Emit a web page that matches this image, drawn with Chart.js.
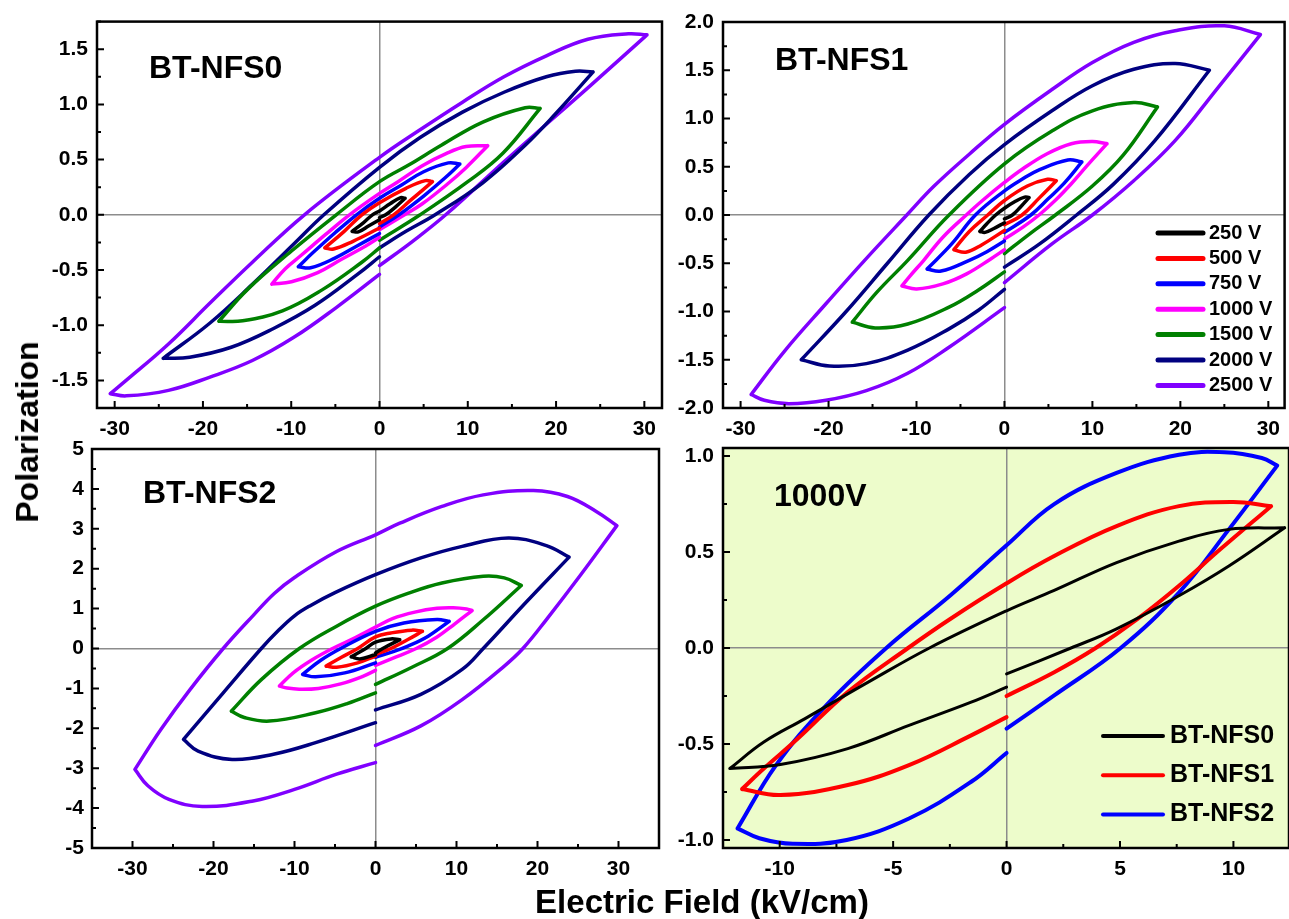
<!DOCTYPE html>
<html>
<head>
<meta charset="utf-8">
<title>P-E loops</title>
<script src="https://cdn.jsdelivr.net/npm/chart.js@4.4.1/dist/chart.umd.min.js"></script>
<style>
  body { margin: 0; width: 1289px; height: 919px; background: #fff; overflow: hidden; position: relative;
         font-family: 'Liberation Sans', Arial, sans-serif; }
  canvas { position: absolute; left: 0; top: 0; }
  .lbl { position: absolute; font-weight: bold; color: #000; white-space: nowrap; }
</style>
</head>
<body>
<canvas id="c1" width="1289" height="919"></canvas>
<canvas id="c2" width="1289" height="919"></canvas>
<canvas id="c3" width="1289" height="919"></canvas>
<canvas id="c4" width="1289" height="919"></canvas>

<div class="lbl" style="left:149px;top:51px;font-size:32px;line-height:32px">BT-NFS0</div>
<div class="lbl" style="left:775px;top:43px;font-size:32px;line-height:32px">BT-NFS1</div>
<div class="lbl" style="left:143px;top:476px;font-size:32px;line-height:32px">BT-NFS2</div>
<div class="lbl" style="left:774px;top:479px;font-size:32px;line-height:32px">1000V</div>
<div class="lbl" style="left:27px;top:432px;font-size:32px;line-height:32px;transform:translate(-50%,-50%) rotate(-90deg)">Polarization</div>
<div class="lbl" style="left:702px;top:885px;font-size:33px;line-height:33px;transform:translateX(-50%)">Electric Field (kV/cm)</div>

<script>
// legend labels and colours
const voltLabels = ['250 V', '500 V', '750 V', '1000 V', '1500 V', '2000 V', '2500 V'];
const voltColors = ['#000000', '#ff0000', '#0000ff', '#ff00ff', '#008000', '#000080', '#8000ff'];
const sampleLabels = ['BT-NFS0', 'BT-NFS1', 'BT-NFS2'];
const sampleColors = ['#000000', '#ff0000', '#0000ff'];

// tick values
const fieldTicks = [-30, -20, -10, 0, 10, 20, 30];
const fieldTicks1000 = [-10, -5, 0, 5, 10];
const polTicks0 = [-1.5, -1.0, -0.5, 0, 0.5, 1.0, 1.5];
const polTicks1 = [-2.0, -1.5, -1.0, -0.5, 0, 0.5, 1.0, 1.5, 2.0];
const polTicks2 = [-5, -4, -3, -2, -1, 0, 1, 2, 3, 4, 5];
const polTicks1000 = [-1.0, -0.5, 0, 0.5, 1.0];

// each loop: [E (kV/cm), P] from E=0 up the lower branch, back along the upper branch, then the lower-left branch to E=0
const nfs0_250 = [[0,-0.025],[0.7,0],[1.8,0.07],[2.9,0.15],[2.4,0.155],[1.2,0.1],[0,0.035],[-0.8,0],[-1.8,-0.07],[-3.1,-0.15],[-2.4,-0.155],[-1.2,-0.1],[0,-0.045]];
const nfs0_500 = [[0,-0.08],[1.6,0],[3.5,0.13],[6.0,0.30],[5.2,0.31],[3,0.24],[0,0.11],[-2.0,0],[-4,-0.15],[-6.2,-0.30],[-5.2,-0.31],[-3,-0.24],[0,-0.12]];
const nfs0_750 = [[0,-0.11],[2.2,0],[5,0.17],[7.5,0.34],[9.1,0.46],[7.8,0.47],[5,0.39],[2.5,0.27],[0,0.15],[-2.6,0],[-5,-0.16],[-7.5,-0.34],[-9.2,-0.47],[-7.8,-0.48],[-5,-0.39],[-2.5,-0.28],[0,-0.17]];
const nfs0_1000 = [[0,-0.135],[2.84,0],[4.85,0.1],[7.6,0.272],[9.8,0.427],[12.26,0.626],[9.8,0.618],[7.6,0.557],[4.85,0.445],[2.1,0.3],[0,0.194],[-3.4,0],[-6.1,-0.178],[-8.9,-0.369],[-10.7,-0.49],[-12.2,-0.628],[-9.97,-0.607],[-7.0,-0.524],[-4.3,-0.403],[-1.56,-0.282],[0,-0.204]];
const nfs0_1500 = [[0,-0.23],[4.6,0],[10,0.3],[14,0.56],[18.2,0.964],[16.5,0.97],[11.7,0.84],[7.0,0.63],[3.5,0.46],[0,0.3],[-4.9,0],[-10,-0.33],[-15,-0.68],[-18.2,-0.964],[-15.5,-0.96],[-11,-0.87],[-6.5,-0.68],[-2,-0.43],[0,-0.3]];
const nfs0_2000 = [[0,-0.3],[3,-0.15],[6.3,0],[11.7,0.29],[16.5,0.63],[20,0.92],[24.2,1.294],[22.2,1.3],[18.9,1.25],[14.1,1.11],[9.4,0.93],[4.6,0.7],[0,0.43],[-6.3,0],[-9.65,-0.26],[-14.4,-0.63],[-19.2,-0.98],[-24.5,-1.3],[-21.5,-1.29],[-16.8,-1.2],[-12,-1.03],[-7.3,-0.82],[-2.5,-0.54],[0,-0.38]];
const nfs0_2500 = [[0,-0.46],[3.75,-0.24],[7.5,0],[14.1,0.48],[18.9,0.82],[23.6,1.15],[30.3,1.63],[28.2,1.64],[23.6,1.59],[18.9,1.44],[14.1,1.25],[9.4,1.02],[4.6,0.77],[0,0.52],[-8.5,0],[-14.4,-0.43],[-19.2,-0.8],[-23.9,-1.17],[-28.7,-1.5],[-30.5,-1.62],[-28.7,-1.64],[-23.9,-1.59],[-19.2,-1.47],[-14.4,-1.32],[-9.7,-1.11],[-4.9,-0.84],[0,-0.54]];

const nfs1_250 = [[0,-0.04],[0.9,0],[1.8,0.08],[2.8,0.18],[2.3,0.185],[1.2,0.14],[0,0.07],[-1.0,0],[-2,-0.09],[-2.8,-0.17],[-2.2,-0.18],[-1.2,-0.14],[0,-0.08]];
const nfs1_500 = [[0,-0.1],[2.0,0],[4,0.18],[5.9,0.355],[4.9,0.37],[2.6,0.3],[0,0.15],[-1.9,0],[-4,-0.17],[-5.75,-0.36],[-4.4,-0.385],[-2.6,-0.31],[0,-0.16]];
const nfs1_750 = [[0,-0.18],[3.0,0],[5,0.17],[6.8,0.33],[8.8,0.55],[7.2,0.57],[4.0,0.47],[2,0.37],[0,0.25],[-3.3,0],[-6,-0.3],[-8.8,-0.56],[-7.2,-0.58],[-4,-0.47],[-2,-0.38],[0,-0.27]];
const nfs1_1000 = [[0,-0.25],[2.1,-0.126],[3.93,0],[5.76,0.15],[7.6,0.324],[9.42,0.514],[11.66,0.739],[10,0.761],[7.6,0.739],[4.85,0.635],[2.1,0.479],[0,0.337],[-2.5,0.15],[-4.34,0],[-7.0,-0.23],[-9.2,-0.472],[-10.7,-0.628],[-11.66,-0.735],[-9.97,-0.766],[-7.0,-0.714],[-4.3,-0.61],[-1.56,-0.455],[0,-0.36]];
const nfs1_1500 = [[0,-0.4],[2.8,-0.2],[5.8,0],[10,0.3],[13.5,0.62],[17.4,1.12],[14.7,1.165],[10,1.08],[5.4,0.87],[0,0.53],[-6.3,0],[-11,-0.47],[-14.5,-0.8],[-17.3,-1.11],[-14.7,-1.17],[-11,-1.13],[-6.3,-0.955],[-3,-0.78],[0,-0.59]];
const nfs1_2000 = [[0,-0.54],[4,-0.3],[8.2,0],[12.4,0.32],[17.1,0.77],[23.3,1.5],[19.4,1.57],[14.7,1.51],[10,1.34],[5.4,1.08],[0,0.73],[-4,0.42],[-8.6,0],[-13.3,-0.5],[-18,-1.0],[-23.1,-1.5],[-19.9,-1.565],[-15.7,-1.54],[-11,-1.4],[-6.3,-1.18],[-3,-0.99],[0,-0.77]];
const nfs1_2500 = [[0,-0.7],[5.4,-0.3],[10,0],[14.7,0.355],[19.4,0.77],[24.1,1.3],[29.1,1.87],[25,1.96],[19.4,1.91],[14.7,1.79],[10,1.58],[5.4,1.3],[0,0.94],[-4,0.63],[-8,0.3],[-11.1,0],[-16,-0.48],[-20.3,-0.92],[-25,-1.41],[-28.8,-1.86],[-27.3,-1.92],[-24.5,-1.955],[-20.3,-1.92],[-15.7,-1.82],[-11,-1.64],[-6.3,-1.37],[0,-0.96]];

const nfs2_250 = [[0,-0.11],[0.9,0],[3.0,0.22],[1.9,0.24],[0,0.16],[-1.2,0],[-3.0,-0.21],[-1.9,-0.26],[0,-0.15]];
const nfs2_500 = [[0,-0.15],[1.9,0],[4.0,0.225],[5.8,0.43],[4.5,0.46],[1.9,0.39],[0,0.29],[-2.2,0],[-4.2,-0.22],[-6.1,-0.44],[-4.8,-0.47],[-2.2,-0.36],[0,-0.19]];
const nfs2_750 = [[0,-0.22],[2,-0.09],[4,0.06],[6.5,0.31],[9.1,0.68],[7.6,0.725],[3.5,0.64],[0,0.43],[-4.3,0],[-6.8,-0.3],[-9.0,-0.65],[-7.4,-0.71],[-3.8,-0.61],[0,-0.36]];
const nfs2_1000 = [[0,-0.42],[2.1,-0.247],[5.03,0],[7.6,0.289],[9.8,0.618],[11.93,0.95],[11.25,0.99],[9.6,1.02],[7.6,1.007],[4.85,0.912],[2.1,0.75],[0,0.535],[-2.47,0.275],[-5.3,0],[-7.96,-0.3],[-10.16,-0.61],[-11.86,-0.94],[-10.9,-0.991],[-9.42,-1.02],[-7.05,-1.0],[-4.3,-0.888],[-1.56,-0.697],[0,-0.547]];
const nfs2_1500 = [[0,-0.9],[4.5,-0.47],[8.9,0],[13.3,0.72],[18,1.58],[15.9,1.77],[13.3,1.81],[8.2,1.64],[4,1.38],[0,1.06],[-4.8,0.56],[-9.4,0],[-14.1,-0.78],[-17.8,-1.57],[-16.2,-1.73],[-13.1,-1.82],[-7.4,-1.61],[-3.5,-1.38],[0,-1.11]];
const nfs2_2000 = [[0,-1.54],[5.6,-1.15],[10.7,-0.525],[13.3,0],[18.5,1.14],[23.9,2.29],[21.1,2.58],[16.4,2.77],[10.7,2.56],[5.6,2.27],[0,1.85],[-5,1.4],[-8,1.08],[-10,0.82],[-12,0.45],[-14.1,0],[-18.8,-1.11],[-23.7,-2.28],[-21.9,-2.57],[-17.7,-2.78],[-12.6,-2.65],[-7.4,-2.36],[0,-1.86]];
const nfs2_2500 = [[0,-2.43],[5.6,-1.94],[10.7,-1.28],[15.9,-0.44],[18.2,0],[21.1,0.725],[25.2,1.81],[29.8,3.08],[27.3,3.43],[23.7,3.81],[19.5,3.96],[13.3,3.85],[8.2,3.56],[3.0,3.14],[0,2.85],[-4.8,2.43],[-10,1.78],[-12.5,1.38],[-15,0.85],[-18.8,0],[-22.9,-1.03],[-26.5,-2.03],[-29.7,-3.03],[-28.1,-3.44],[-25.5,-3.78],[-21.4,-3.96],[-15.1,-3.82],[-10,-3.53],[-4.8,-3.15],[0,-2.86]];

const FONT = "'Liberation Sans', Arial, sans-serif";
const W = 1289, H = 919;
const YW = 70, XH = 40;

// split the loop at both field extremes so the tips stay sharp
function loopData(pts) {
    const xs = pts.map(p => p[0]);
    const iMax = xs.indexOf(Math.max(...xs));
    const iMin = xs.indexOf(Math.min(...xs));
    const out = [];
    pts.forEach((p, i) => {
        out.push({ x: p[0], y: p[1] });
        if (i === iMax || i === iMin) {
            out.push({ x: p[0], y: null });
            out.push({ x: p[0], y: p[1] });
        }
    });
    return out;
}

function makeDatasets(loops, labels, colors, width) {
    return loops.map((pts, i) => ({
        label: labels[i],
        data: loopData(pts),
        borderColor: colors[i],
        borderWidth: Array.isArray(width) ? width[i] : width,
        pointRadius: 0,
        tension: 0.4,
        borderCapStyle: 'round',
        borderJoinStyle: 'round',
        fill: false
    }));
}

// background, inward ticks and the box
const framePlugin = {
    id: 'frame',
    beforeDraw(chart, args, opts) {
        if (!opts.bg) return;
        const a = chart.chartArea;
        chart.ctx.save();
        chart.ctx.fillStyle = opts.bg;
        chart.ctx.fillRect(a.left, a.top, a.right - a.left, a.bottom - a.top);
        chart.ctx.restore();
    },
    afterDraw(chart, args, opts) {
        const { ctx, chartArea: a } = chart;
        const xs = chart.scales.x, ys = chart.scales.y;
        ctx.save();
        ctx.strokeStyle = '#000';
        ctx.lineWidth = 2;
        ctx.beginPath();
        for (let n = Math.ceil(xs.min / opts.xMinor); n * opts.xMinor <= xs.max; n++) {
            const px = xs.getPixelForValue(n * opts.xMinor);
            const len = n % 2 === 0 ? 7 : 4;
            ctx.moveTo(px, a.bottom);
            ctx.lineTo(px, a.bottom - len);
        }
        for (let n = Math.ceil(ys.min / opts.yMinor); n * opts.yMinor <= ys.max; n++) {
            const py = ys.getPixelForValue(n * opts.yMinor);
            const len = n % 2 === 0 ? 7 : 4;
            ctx.moveTo(a.left, py);
            ctx.lineTo(a.left + len, py);
        }
        ctx.stroke();
        ctx.lineWidth = 2.5;
        ctx.strokeRect(a.left, a.top, a.right - a.left, a.bottom - a.top);
        ctx.restore();
    }
};

const loopLegend = {
    id: 'loopLegend',
    afterDraw(chart, args, opts) {
        if (!opts.show) return;
        const ctx = chart.ctx;
        ctx.save();
        ctx.font = 'bold ' + opts.size + 'px ' + FONT;
        ctx.textBaseline = 'middle';
        ctx.fillStyle = '#000';
        ctx.lineCap = 'round';
        chart.data.datasets.forEach((ds, i) => {
            const y = opts.y + i * opts.dy;
            ctx.strokeStyle = ds.borderColor;
            ctx.lineWidth = opts.lw;
            ctx.beginPath();
            ctx.moveTo(opts.x, y);
            ctx.lineTo(opts.x + opts.len, y);
            ctx.stroke();
            ctx.fillText(ds.label, opts.x + opts.len + opts.gap, y);
        });
        ctx.restore();
    }
};

function makeChart(id, p, datasets) {
    const tickFont = { family: FONT, size: 21, weight: 'bold' };
    const zeroGrid = {
        drawTicks: false,
        lineWidth: 1.5,
        color: ctx => Math.abs(ctx.tick.value) < 1e-9 ? '#8c8c8c' : 'rgba(0,0,0,0)'
    };
    return new Chart(document.getElementById(id), {
        type: 'line',
        data: { datasets: datasets },
        options: {
            responsive: false,
            animation: false,
            events: [],
            layout: { padding: { left: p.rect[0] - YW, top: p.rect[1], right: W - p.rect[2], bottom: H - p.rect[3] - XH } },
            plugins: {
                legend: { display: false },
                tooltip: { enabled: false },
                frame: { bg: p.bg, xMinor: p.xMinor, yMinor: p.yMinor },
                loopLegend: p.legend || { show: false }
            },
            scales: {
                x: {
                    type: 'linear', min: p.x[0], max: p.x[1],
                    afterFit: s => { s.height = XH; },
                    afterBuildTicks: s => { s.ticks = p.xTicks.map(v => ({ value: v })); },
                    ticks: { font: tickFont, color: '#000', padding: 9, maxRotation: 0, autoSkip: false,
                             callback: v => String(Math.round(v)) },
                    grid: zeroGrid,
                    border: { display: false }
                },
                y: {
                    type: 'linear', min: p.y[0], max: p.y[1],
                    afterFit: s => { s.width = YW; },
                    afterBuildTicks: s => { s.ticks = p.yTicks.map(v => ({ value: v })); },
                    ticks: { font: tickFont, color: '#000', padding: p.yPad, autoSkip: false,
                             callback: v => v.toFixed(p.yDec) },
                    grid: zeroGrid,
                    border: { display: false }
                }
            }
        },
        plugins: [framePlugin, loopLegend]
    });
}

// panel layout: chart-area rect [left, top, right, bottom], axis ranges
const panel1 = { rect: [97, 20, 662, 408], x: [-32, 32], y: [-1.75, 1.75], xTicks: fieldTicks, yTicks: polTicks0,
                 xMinor: 5, yMinor: 0.25, yDec: 1, yPad: 9 };
const panel2 = { rect: [723, 22, 1289, 408], x: [-32, 31.85], y: [-2, 2], xTicks: fieldTicks, yTicks: polTicks1,
                 xMinor: 5, yMinor: 0.25, yDec: 1, yPad: 9,
                 legend: { show: true, x: 1158, y: 233, dy: 25.4, len: 45, gap: 6, size: 20, lw: 5 } };
const panel3 = { rect: [92, 449, 659, 848], x: [-35, 35], y: [-5, 5], xTicks: fieldTicks, yTicks: polTicks2,
                 xMinor: 5, yMinor: 0.5, yDec: 0, yPad: 8 };
const panel4 = { rect: [723, 448, 1289, 848], x: [-12.5, 12.45], y: [-1.042, 1.042], xTicks: fieldTicks1000, yTicks: polTicks1000,
                 xMinor: 2.5, yMinor: 0.25, yDec: 1, yPad: 9, bg: '#edfccb',
                 legend: { show: true, x: 1103, y: 736, dy: 39.2, len: 60, gap: 7, size: 25, lw: 4 } };

makeChart('c1', panel1, makeDatasets([nfs0_250, nfs0_500, nfs0_750, nfs0_1000, nfs0_1500, nfs0_2000, nfs0_2500], voltLabels, voltColors, 3.5));
makeChart('c2', panel2, makeDatasets([nfs1_250, nfs1_500, nfs1_750, nfs1_1000, nfs1_1500, nfs1_2000, nfs1_2500], voltLabels, voltColors, 3.5));
makeChart('c3', panel3, makeDatasets([nfs2_250, nfs2_500, nfs2_750, nfs2_1000, nfs2_1500, nfs2_2000, nfs2_2500], voltLabels, voltColors, 3.5));
makeChart('c4', panel4, makeDatasets([nfs0_1000, nfs1_1000, nfs2_1000], sampleLabels, sampleColors, [3, 4, 4]));
</script>
</body>
</html>
